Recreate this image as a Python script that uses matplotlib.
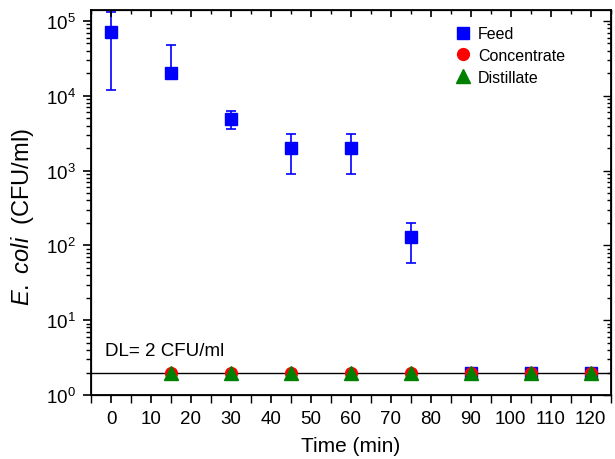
import matplotlib
matplotlib.use("Agg")
import matplotlib.pyplot as plt
from matplotlib.ticker import MultipleLocator, LogLocator, NullFormatter

plt.rcParams["font.family"] = ["Liberation Sans", "DejaVu Sans"]
plt.rcParams["mathtext.fontset"] = "custom"
plt.rcParams["mathtext.rm"] = "Liberation Sans"
plt.rcParams["mathtext.it"] = "Liberation Sans:italic"

# Feed samples (CFU/ml) with error bars
feed_time = [0, 15, 30, 45, 60, 75, 90, 105, 120]
feed_value = [7.1e4, 2.0e4, 4.9e3, 2.0e3, 2.0e3, 130, 2, 2, 2]
feed_err = [5.9e4, 2.8e4, 1.3e3, 1.1e3, 1.1e3, 72, 0, 0, 0]

# Concentrate and distillate stay at detection limit
conc_time = [15, 30, 45, 60, 75, 90, 105, 120]
conc_value = [2, 2, 2, 2, 2, 2, 2, 2]
dist_time = [15, 30, 45, 60, 75, 90, 105, 120]
dist_value = [2, 2, 2, 2, 2, 2, 2, 2]

detection_limit = 2
xticks = [0, 10, 20, 30, 40, 50, 60, 70, 80, 90, 100, 110, 120]

fig = plt.figure(figsize=(6.15, 4.6), dpi=100)
ax = fig.add_axes([0.148, 0.139, 0.845, 0.837])

ax.axhline(detection_limit, color="black", lw=1.0, zorder=1)

# feed: lower error bar dropped when it would go below zero
lower = [e if v - e > 0 else 0 for v, e in zip(feed_value, feed_err)]
ax.errorbar(feed_time, feed_value, yerr=[lower, feed_err], fmt="none", ecolor="#0000ff",
            capsize=3.3, elinewidth=1.2, capthick=1.2, zorder=2)
ax.plot(feed_time, feed_value, "s", color="#0000ff", ms=8.5, label="Feed", zorder=3)
ax.plot(conc_time, conc_value, "o", color="#ff0000", ms=8.5, label="Concentrate", zorder=4)
ax.plot(dist_time, dist_value, "^", color="#008000", ms=9.5, label="Distillate", zorder=5)

ax.set_yscale("log")
ax.set_ylim(1, 1.4e5)
ax.set_xlim(-5, 125)
ax.set_xticks(xticks)
ax.xaxis.set_minor_locator(MultipleLocator(5))
ax.yaxis.set_major_locator(LogLocator(base=10, numticks=10))
ax.yaxis.set_minor_locator(LogLocator(base=10, subs=range(2, 10), numticks=10))
ax.yaxis.set_minor_formatter(NullFormatter())

ax.tick_params(axis="both", which="major", direction="out", length=6, width=1.2,
               labelsize=13.5, pad=5)
ax.tick_params(axis="x", which="minor", direction="out", length=6, width=1.0)
ax.tick_params(axis="y", which="minor", direction="out", length=3.5, width=1.0)
for s in ax.spines.values():
    s.set_linewidth(1.3)

# inward ticks on top and right
axt = ax.twiny()
axt.set_xlim(ax.get_xlim())
axt.set_xticks(xticks)
axt.xaxis.set_minor_locator(MultipleLocator(5))
axt.tick_params(axis="x", which="major", direction="in", labeltop=False, length=5, width=1.2)
axt.tick_params(axis="x", which="minor", direction="in", length=3, width=1.0)
axr = ax.twinx()
axr.set_yscale("log")
axr.set_ylim(ax.get_ylim())
axr.yaxis.set_major_locator(LogLocator(base=10, numticks=10))
axr.yaxis.set_minor_locator(LogLocator(base=10, subs=range(2, 10), numticks=10))
axr.tick_params(axis="y", which="both", direction="in", labelright=False, width=1.0)
axr.tick_params(axis="y", which="major", length=6)
axr.tick_params(axis="y", which="minor", length=3)

ax.set_xlabel("Time (min)", fontsize=15, labelpad=6)
ax.set_ylabel(r"$\it{E.\ coli}$  (CFU/ml)", fontsize=17)
ax.yaxis.set_label_coords(-0.105, 0.465)
ax.text(-1.5, 3.4, "DL= 2 CFU/ml", fontsize=13.5, va="baseline")

ax.legend(loc="upper right", bbox_to_anchor=(0.94, 0.995), frameon=False, fontsize=11.5,
          handletextpad=0.2, labelspacing=0.42, handlelength=1.5)

fig.savefig("out.png", dpi=100)
